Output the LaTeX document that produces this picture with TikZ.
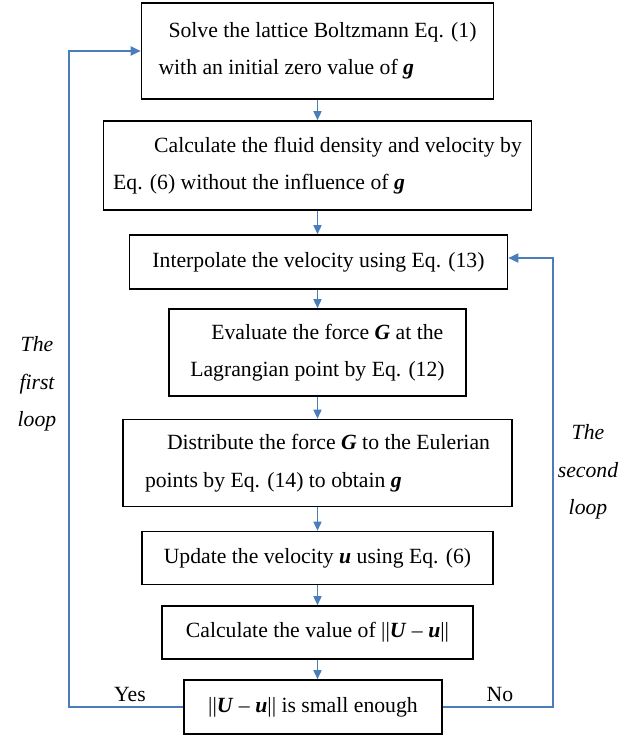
\documentclass[tikz,border=0pt]{standalone}
\usepackage{fontspec}
\setmainfont{Liberation Serif}
\usetikzlibrary{arrows.meta}

\newlength{\du}
\setlength{\du}{1pt}
\definecolor{dialinecolor}{rgb}{0.290000, 0.494000, 0.733000}
\newcommand{\bv}[1]{\textbf{\textit{#1}}}
\newcommand{\normUu}{\textbar\textbar\bv{U}~--~\bv{u}\textbar\textbar}

\tikzset{
  flowbox/.style={draw=black, line width=1.6\du, fill=white, align=left, inner sep=0pt,
    font=\fontsize{21.7}{37.5}\selectfont},
  downarrow/.style={draw=dialinecolor, line width=1.5\du, -{Triangle[length=9pt,width=8pt]}},
  loopline/.style={draw=dialinecolor, line width=1.8\du, -{Triangle[length=10pt,width=9pt]}},
  looptext/.style={align=center, inner sep=0pt, font=\fontsize{21.7}{37.5}\selectfont\itshape},
  branchtext/.style={inner sep=0pt, font=\fontsize{21.7}{26}\selectfont},
}

\begin{document}
\begin{tikzpicture}[x=1\du,y=-1\du]
\useasboundingbox (0,0) rectangle (643,736);
% boxes
\node[flowbox, minimum width=352\du, minimum height=96\du] (solve) at (317.5,51)
  {\hspace{10\du}Solve the lattice Boltzmann Eq. (1)\\with an initial zero value of \bv{g}};
\node[flowbox, minimum width=428\du, minimum height=89\du] (fluid) at (317.5,165.5)
  {\hspace{41\du}Calculate the fluid density and velocity by\\Eq. (6) without the influence of \bv{g}};
\node[flowbox, minimum width=378\du, minimum height=54\du] (interp) at (318.5,262)
  {Interpolate the velocity using Eq. (13)};
\node[flowbox, minimum width=297\du, minimum height=87\du] (force) at (317.5,352.5)
  {\hspace{21\du}Evaluate the force \bv{G} at the\\Lagrangian point by Eq. (12)};
\node[flowbox, minimum width=389\du, minimum height=87\du] (spread) at (317.5,463)
  {\hspace{22\du}Distribute the force \bv{G} to the Eulerian\\points by Eq. (14) to obtain \bv{g}};
\node[flowbox, minimum width=351\du, minimum height=53\du] (update) at (317.5,558)
  {Update the velocity \bv{u} using Eq. (6)};
\node[flowbox, minimum width=311\du, minimum height=53\du] (norm) at (317.5,632.5)
  {Calculate the value of \normUu};
\node[flowbox, minimum width=258\du, minimum height=54\du] (check) at (313,707)
  {\normUu{} is small enough};

% straight flow, kept on one vertical
\draw[downarrow] (solve.south) -- (solve.south |- fluid.north);
\draw[downarrow] (fluid.south) -- (fluid.south |- interp.north);
\draw[downarrow] (fluid.south |- interp.south) -- (fluid.south |- force.north);
\draw[downarrow] (force.south) -- (force.south |- spread.north);
\draw[downarrow] (spread.south) -- (spread.south |- update.north);
\draw[downarrow] (update.south) -- (update.south |- norm.north);
\draw[downarrow] (norm.south) -- (norm.south |- check.north);

% the two loops
\coordinate (lefttop) at (69,51);
\coordinate (righttop) at (553,258);
\draw[loopline] (check.west) -| (lefttop) -- (solve.west);
\draw[loopline] (check.east) -| (righttop) -- (interp.east |- righttop);

\node[looptext] (firstloop) at (37,384) {The\\first\\loop};
\node[looptext] (secondloop) at (588,472) {The\\second\\loop};
\node[branchtext] (yes) at (130,694) {Yes};
\node[branchtext] (no) at (500,694) {No};
\end{tikzpicture}
\end{document}
